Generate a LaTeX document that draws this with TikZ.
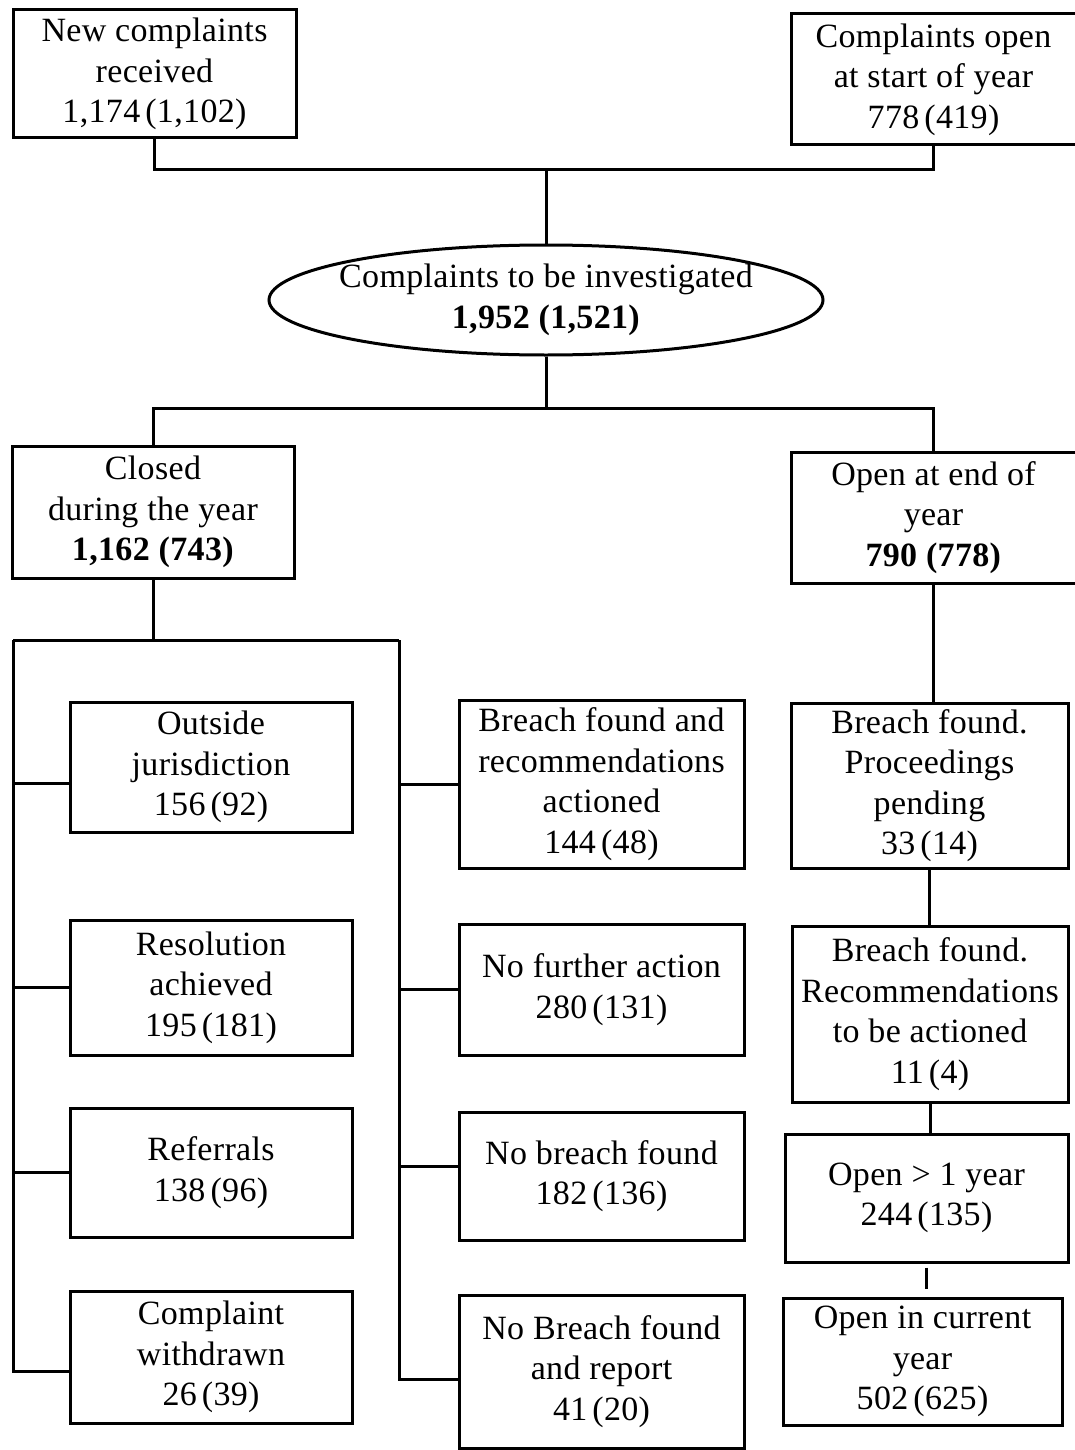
\documentclass[tikz,border=0pt]{standalone}
\usepackage{fontspec}
\setmainfont{Liberation Serif}[LetterSpace=1]
\usetikzlibrary{shapes.geometric}
\tikzset{
  bx/.style={draw, line width=3pt, rectangle, align=center, inner sep=0pt,
    font=\fontsize{34}{40.5}\selectfont},
  ell/.style={draw, line width=3pt, ellipse, inner sep=0pt},
  txt/.style={align=center, inner sep=0pt, font=\fontsize{34}{40.5}\selectfont},
  ln/.style={line width=3pt}
}
\newcommand\nsp{\kern5pt}
\begin{document}
\begin{tikzpicture}[x=1pt,y=-1pt]
\useasboundingbox (0,0) rectangle (1075,1450);
% top row
\node[bx, minimum width=283, minimum height=128] (new) at (154.5,74) {New complaints\\received\\1,174\nsp(1,102)};
\node[bx, minimum width=285, minimum height=131] (ost) at (933.5,79.5) {Complaints open\\at start of year\\778\nsp(419)};
\node[ell, minimum width=554, minimum height=110] (inv) at (546,300) {};
\node[txt] (invt) at (inv.center) {Complaints to be investigated\\\textbf{1,952 (1,521)}};
\coordinate (j1) at (546,170);
\draw[ln] (new.south) |- (j1) -| (ost.south);
\draw[ln] (j1) -- (inv.north);
% second level
\node[bx, minimum width=282, minimum height=132] (closed) at (153,512) {Closed\\during the year\\\textbf{1,162 (743)}};
\node[bx, minimum width=285, minimum height=131] (oend) at (933.5,517.5) {Open at end of\\year\\\textbf{790 (778)}};
\coordinate (j2) at (546,408);
\draw[ln] (inv.south) -- (j2);
\draw[ln] (closed.north) |- (j2) -| (oend.north);
% closed branches
\node[bx, minimum width=282, minimum height=130] (oj) at (211,767) {Outside\\jurisdiction\\156\nsp(92)};
\node[bx, minimum width=282, minimum height=135] (res) at (211,987.5) {Resolution\\achieved\\195\nsp(181)};
\node[bx, minimum width=282, minimum height=129] (ref) at (211,1172.5) {Referrals\\138\nsp(96)};
\node[bx, minimum width=282, minimum height=132] (wd) at (211,1357) {Complaint\\withdrawn\\26\nsp(39)};
\node[bx, minimum width=285, minimum height=168] (recs) at (601.5,784) {Breach found and\\recommendations\\actioned\\144\nsp(48)};
\node[bx, minimum width=285, minimum height=131] (nfa) at (601.5,989.5) {No further action\\280\nsp(131)};
\node[bx, minimum width=285, minimum height=128] (nbf) at (601.5,1176) {No breach found\\182\nsp(136)};
\node[bx, minimum width=285, minimum height=153] (nbr) at (601.5,1371.5) {No Breach found\\and report\\41\nsp(20)};
\coordinate (bl) at (13,640);
\coordinate (br) at (399,640);
\draw[ln] (closed.south) -- (closed.south |- bl);
\draw[ln] (bl) -- (br);
\draw[ln] (bl) |- ([yshift=-14pt]wd.west);
\draw[ln] (bl |- oj.west) ++(0,16) -- ([yshift=-16pt]oj.west);
\draw[ln] (bl |- res.west) -- (res.west);
\draw[ln] (bl |- ref.west) -- (ref.west);
\draw[ln] (br) |- ([yshift=-8pt]nbr.west);
\draw[ln] (br |- recs.west) -- (recs.west);
\draw[ln] (br |- nfa.west) -- (nfa.west);
\draw[ln] (br |- nbf.west) ++(0,-10) -- ([yshift=10pt]nbf.west);
% open branch
\node[bx, minimum width=277, minimum height=165] (pp) at (929.5,785.5) {Breach found.\\Proceedings\\pending\\33\nsp(14)};
\node[bx, minimum width=276, minimum height=176] (rtba) at (930,1014) {Breach found.\\Recommendations\\to be actioned\\11\nsp(4)};
\node[bx, minimum width=283, minimum height=128] (o1) at (926.5,1198) {Open > 1 year\\244\nsp(135)};
\node[bx, minimum width=279, minimum height=127] (ocy) at (922.5,1361.5) {Open in current\\year\\502\nsp(625)};
\draw[ln] (oend.south) -- (oend.south |- pp.north);
\draw[ln] (pp.south) -- (pp.south |- rtba.north);
\draw[ln] (rtba.south) -- (rtba.south |- o1.north);
\draw[ln] ([yshift=-4pt]o1.south) -- ([yshift=8pt]o1.south |- ocy.north);
\end{tikzpicture}
\end{document}
